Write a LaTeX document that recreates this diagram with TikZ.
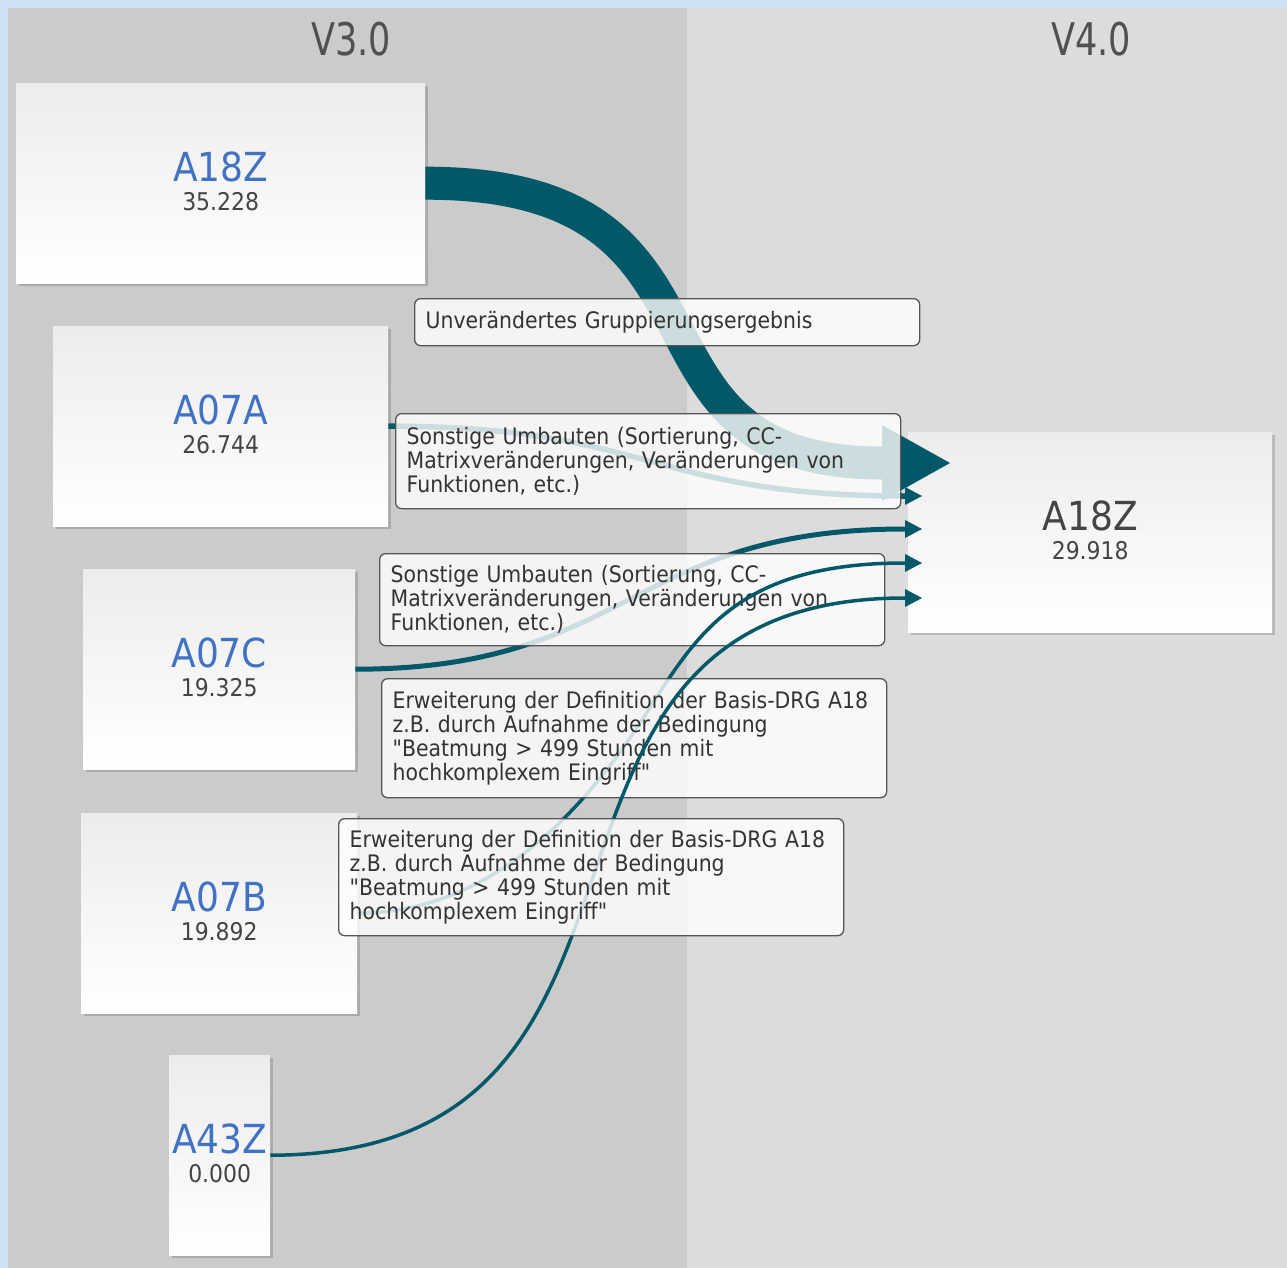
\documentclass[tikz,border=0pt]{standalone}
\usepackage{fontspec}
\setmainfont{DejaVu Sans}[FakeStretch=0.9]
% family for the notes, kept free of TeX quote ligatures
\newfontfamily\notefont{DejaVu Sans}[FakeStretch=0.9]
\newfontfamily\headfont{DejaVu Sans}[FakeStretch=0.78]
\usetikzlibrary{calc,shadows}

\definecolor{frame}{RGB}{207,224,242}
\definecolor{oldcol}{RGB}{203,203,203}
\definecolor{newcol}{RGB}{220,220,220}
\definecolor{flow}{RGB}{0,88,104}
\definecolor{codeblue}{RGB}{66,114,196}
\definecolor{ink}{RGB}{68,68,68}
\definecolor{notetext}{RGB}{51,51,51}
\definecolor{boxline}{RGB}{85,85,85}
\definecolor{boxtop}{RGB}{236,236,236}

% filled arrow head: base centre, half height, length
\newcommand\flowhead[3]{%
  \fill[flowfill] ($(#1)+(0,-#2)$) -- ($(#1)+(#3,0)$) -- ($(#1)+(0,#2)$) -- cycle;}

\tikzset{
  drg/.style={anchor=north west, inner sep=0pt, minimum height=200pt,
    top color=boxtop, bottom color=white, draw=none,
    drop shadow={shadow xshift=2.5pt, shadow yshift=-2.5pt, opacity=0.16, fill=black}},
  code/.style={font=\fontsize{40}{44}\selectfont, text=codeblue, inner sep=0pt},
  newcode/.style={code, text=ink},
  val/.style={font=\fontsize{24.4}{26}\selectfont, text=ink, inner sep=0pt},
  head/.style={font=\headfont\fontsize{45}{48}\selectfont, text={rgb,255:red,80;green,80;blue,80}, inner sep=0pt},
  note/.style={anchor=north west, draw=boxline, line width=1.3pt, rounded corners=6pt,
    fill=white, fill opacity=0.8, text opacity=1, text=notetext,
    minimum width=505pt, text width=483pt, inner xsep=11pt, inner ysep=0pt,
    align=left, font=\notefont\fontsize{22.7}{24}\selectfont},
  link/.style={draw=flow},
  flowfill/.style={fill=flow},
}

\begin{document}
\begin{tikzpicture}[x=1pt,y=-1pt]
\useasboundingbox (0,0) rectangle (1287,1268);

% version columns
\fill[frame] (0,0) rectangle (1287,1268);
\fill[oldcol] (8,8) rectangle (687,1268);
\fill[newcol] (687,8) rectangle (1287,1268);
\node[head] (v3) at (351,39) {V3.0};
\node[head] (v4) at (1091,39) {V4.0};

% DRG boxes, V3.0
\node[drg, minimum width=409pt] (a18z) at (16,83) {};
\node[drg, minimum width=335pt] (a07a) at (53,326) {};
\node[drg, minimum width=272pt] (a07c) at (83,569) {};
\node[drg, minimum width=276pt] (a07b) at (81,813) {};
\node[drg, minimum width=101pt] (a43z) at (169,1055) {};
% DRG box, V4.0
\node[drg, minimum width=364pt] (n18z) at (908,432) {};

\node[code] (a18z-t) at ($(a18z.center)+(0,-16)$) {A18Z};
\node[val]  (a18z-v) at ($(a18z.center)+(0,18)$) {35.228};
\node[code] (a07a-t) at ($(a07a.center)+(0,-16)$) {A07A};
\node[val]  (a07a-v) at ($(a07a.center)+(0,18)$) {26.744};
\node[code] (a07c-t) at ($(a07c.center)+(0,-16)$) {A07C};
\node[val]  (a07c-v) at ($(a07c.center)+(0,18)$) {19.325};
\node[code] (a07b-t) at ($(a07b.center)+(0,-16)$) {A07B};
\node[val]  (a07b-v) at ($(a07b.center)+(0,18)$) {19.892};
\node[code] (a43z-t) at ($(a43z.center)+(0,-16)$) {A43Z};
\node[val]  (a43z-v) at ($(a43z.center)+(0,18)$) {0.000};
\node[newcode] (n18z-t) at ($(n18z.center)+(0,-16)$) {A18Z};
\node[val]     (n18z-v) at ($(n18z.center)+(0,18)$) {29.918};

% ends of the flows at the V4.0 box
\coordinate (e1) at (882,463);
\coordinate (e2) at (905,496);
\coordinate (e3) at (905,529);
\coordinate (e4) at (905,563);
\coordinate (e5) at (905,598);

% A18Z -> A18Z
\draw[link, line width=33pt] (a18z.east) .. controls (760,183) and (600,463) .. (e1);
\flowhead{e1}{38}{68}
\node[note, minimum height=47pt] (l1) at (414,298) {Unverändertes Gruppierungsergebnis};

% A07A -> A18Z
\draw[link, line width=5.5pt] (a07a.east) .. controls (650,426) and (650,496) .. (e2);
\flowhead{e2}{9}{17}
\node[note, minimum height=95pt] (l2) at (395,413)
  {Sonstige Umbauten (Sortierung, CC-\\Matrixveränderungen, Veränderungen von\\Funktionen, etc.)};

% A07C -> A18Z
\draw[link, line width=5pt] (a07c.east) .. controls (630,669) and (630,529) .. (e3);
\flowhead{e3}{9}{17}
\node[note, minimum height=92pt] (l3) at (379,553)
  {Sonstige Umbauten (Sortierung, CC-\\Matrixveränderungen, Veränderungen von\\Funktionen, etc.)};

% A07B -> A18Z
\draw[link, line width=3.5pt] (a07b.east) .. controls (470,913) and (560,840) .. (630,738)
  .. controls (690,650) and (720,563) .. (e4);
\flowhead{e4}{9}{17}
\node[note, minimum height=119pt] (l4) at (381,678)
  {Erweiterung der Definition der Basis-DRG A18\\z.B. durch Aufnahme der Bedingung\\"Beatmung > 499 Stunden mit\\hochkomplexem Eingriff"};

% A43Z -> A18Z
\draw[link, line width=3.5pt] (a43z.east) .. controls (720,1155) and (470,598) .. (e5);
\flowhead{e5}{9}{17}
\node[note, minimum height=117pt] (l5) at (338,818)
  {Erweiterung der Definition der Basis-DRG A18\\z.B. durch Aufnahme der Bedingung\\"Beatmung > 499 Stunden mit\\hochkomplexem Eingriff"};
\end{tikzpicture}
\end{document}
